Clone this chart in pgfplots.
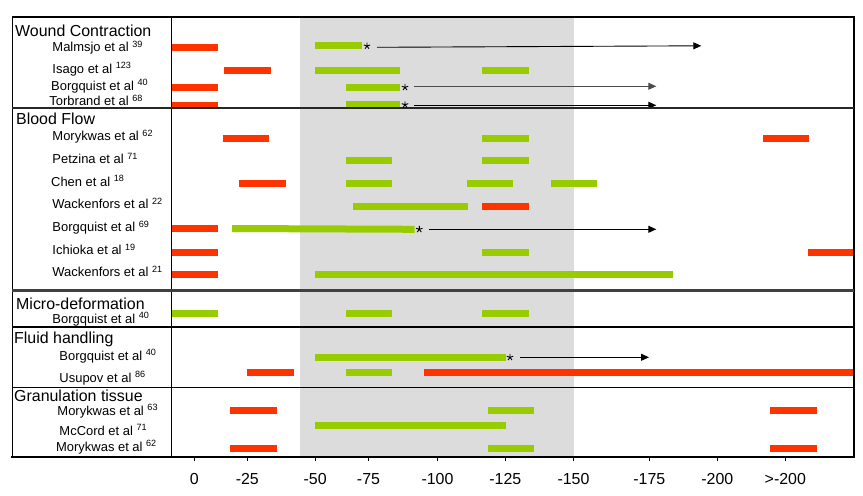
\documentclass[border=0pt]{standalone}
\usepackage{pgfplots}
\pgfplotsset{compat=1.18}
\usepackage{fontspec}
\setmainfont{Liberation Sans}
\usetikzlibrary{arrows.meta}
\definecolor{bgreen}{HTML}{99CC00}
\definecolor{bred}{HTML}{FF3300}
\definecolor{shade}{HTML}{DCDCDC}
\pgfplotsset{
  rb/.style={bred, line width=7bp, line cap=butt, mark=none},
  gb/.style={bgreen, line width=7bp, line cap=butt, mark=none},
  arr/.style={black, line width=0.9bp, mark=none, -{Triangle[length=8bp,width=7bp]}},
}
\newcommand\hdr[3]{\node[anchor=base west, inner sep=0pt, font=\fontsize{16}{18}\selectfont] at (axis cs:#1,#2+5.8) {#3};}
\newcommand\lab[3]{\node[anchor=base west, inner sep=0pt, font=\fontsize{13}{15}\selectfont] at (axis cs:#1,#2+4.6) {#3};}
\begin{document}
\begin{tikzpicture}
\begin{axis}[
  scale only axis, width=682bp, height=439.7bp,
  xmin=171.7, xmax=853.7, ymin=17, ymax=456.7, y dir=reverse,
  clip=false, axis line style={draw=none}, ytick=\empty,
  xtick={194.3,247.3,315.2,368.5,437.5,505.3,573.5,649.3,717.3,785.3},
  xticklabels={0,-25,-50,-75,-100,-125,-150,-175,-200,>-200},
  xtick pos=left, tick align=outside, major tick length=4.5bp,
  xtick style={black, line width=0.8bp},
  xticklabel style={font=\fontsize{16}{18}\selectfont, yshift=-9bp},
]
% bounding box of the whole figure
\path (axis cs:0,0) rectangle (axis cs:863,496);
% optimal-pressure shading
\addplot[fill=shade, draw=none] coordinates {(300,17) (573.5,17) (573.5,456.7) (300,456.7)} -- cycle;

% ---------------- Wound contraction
\addplot[rb] coordinates {(172,47.3) (218,47.3)};
\addplot[gb] coordinates {(315,45.5) (362,45.5)};
\addplot[rb] coordinates {(224,70.3) (271,70.3)};
\addplot[gb] coordinates {(315,70.3) (400,70.3)};
\addplot[gb] coordinates {(482,70.3) (529,70.3)};
\addplot[rb] coordinates {(172,87.3) (218,87.3)};
\addplot[gb] coordinates {(346,87.3) (400,87.3)};
\addplot[rb] coordinates {(172,105) (218,105)};
\addplot[gb] coordinates {(346,104.5) (400,104.5)};
% ---------------- Blood flow
\addplot[rb] coordinates {(222.7,138.3) (268.7,138.3)};
\addplot[gb] coordinates {(482,138.3) (529,138.3)};
\addplot[rb] coordinates {(763,138.3) (809,138.3)};
\addplot[gb] coordinates {(346,160.3) (392,160.3)};
\addplot[gb] coordinates {(482,160.3) (529,160.3)};
\addplot[rb] coordinates {(239,183.3) (285.7,183.3)};
\addplot[gb] coordinates {(346,183.3) (392,183.3)};
\addplot[gb] coordinates {(467,183.3) (513,183.3)};
\addplot[gb] coordinates {(551,183.3) (597,183.3)};
\addplot[gb] coordinates {(353,206.3) (468,206.3)};
\addplot[rb] coordinates {(482,206.3) (529,206.3)};
\addplot[rb] coordinates {(172,228.5) (218,228.5)};
\addplot[gb] coordinates {(232,228.5) (414.7,229.3)};
\addplot[rb] coordinates {(172,252.3) (218,252.3)};
\addplot[gb] coordinates {(482,252.3) (529,252.3)};
\addplot[rb] coordinates {(808,252.3) (853.7,252.3)};
\addplot[rb] coordinates {(172,274.3) (218,274.3)};
\addplot[gb] coordinates {(315,274.3) (673,274.3)};
% ---------------- Micro-deformation
\addplot[gb] coordinates {(172,313.3) (218,313.3)};
\addplot[gb] coordinates {(346,313.3) (392,313.3)};
\addplot[gb] coordinates {(482,313.3) (529,313.3)};
% ---------------- Fluid handling
\addplot[gb] coordinates {(315,357.3) (506,357.3)};
\addplot[rb] coordinates {(247,372.3) (293.7,372.3)};
\addplot[gb] coordinates {(346,372.3) (392,372.3)};
\addplot[rb] coordinates {(424,372.3) (853.7,372.3)};
% ---------------- Granulation tissue
\addplot[rb] coordinates {(230,410.3) (276.7,410.3)};
\addplot[gb] coordinates {(488,410.3) (534,410.3)};
\addplot[rb] coordinates {(770,410.3) (817,410.3)};
\addplot[gb] coordinates {(315,425.3) (506,425.3)};
\addplot[rb] coordinates {(230,448.3) (276.7,448.3)};
\addplot[gb] coordinates {(488,448.3) (534,448.3)};
\addplot[rb] coordinates {(770,448.3) (817,448.3)};

% arrows and stars
\addplot[arr] coordinates {(377,47.3) (701.3,45.8)};
\addplot[arr, black!70] coordinates {(414,86.3) (656.3,86.3)};
\addplot[arr] coordinates {(414,105.3) (656.3,105.3)};
\addplot[arr] coordinates {(429.3,229.3) (656.3,229.3)};
\addplot[arr] coordinates {(520,357.3) (649,357.3)};
\addplot[only marks, mark=star, mark size=3.4bp, black, mark options={line width=0.9bp}]
  coordinates {(367,46) (405,87.3) (405,104.7) (419.3,229.3) (510,357.3)};

% table frame
\draw[line width=1.5bp] (axis cs:12,17) -- (axis cs:853.7,17);
\draw[line width=1.5bp] (axis cs:12.3,17) -- (axis cs:12.3,456.7);
\draw[line width=2bp] (axis cs:853.7,16.3) -- (axis cs:853.7,457.5);
\draw[line width=2bp] (axis cs:11.5,456.7) -- (axis cs:854.7,456.7);
\draw[line width=1bp] (axis cs:171.7,17) -- (axis cs:171.7,456.7);
\draw[line width=2.5bp, black!85] (axis cs:12,108) -- (axis cs:853.7,108);
\draw[line width=2.7bp, black!75] (axis cs:12,290.3) -- (axis cs:853.7,290.3);
\draw[line width=2bp] (axis cs:12,326.7) -- (axis cs:853.7,326.7);
\draw[line width=1bp] (axis cs:12,387) -- (axis cs:853.7,387);

% row labels
\hdr{15}{30.7}{Wound Contraction}
\lab{52.3}{47.3}{Malmsjo et al \textsuperscript{39}}
\lab{52.3}{68.7}{Isago et al \textsuperscript{123}}
\lab{51}{85.7}{Borgquist et al \textsuperscript{40}}
\lab{49.3}{101}{Torbrand et al \textsuperscript{68}}
\hdr{16}{118.3}{Blood Flow}
\lab{52.3}{136}{Morykwas et al \textsuperscript{62}}
\lab{52.3}{159.3}{Petzina et al \textsuperscript{71}}
\lab{51}{181.7}{Chen et al \textsuperscript{18}}
\lab{52.3}{204}{Wackenfors et al \textsuperscript{22}}
\lab{52.3}{227.3}{Borgquist et al \textsuperscript{69}}
\lab{52.3}{250}{Ichioka et al \textsuperscript{19}}
\lab{52.3}{272.3}{Wackenfors et al \textsuperscript{21}}
\hdr{16}{303.5}{Micro-deformation}
\lab{52.3}{318.5}{Borgquist et al \textsuperscript{40}}
\hdr{14}{337.3}{Fluid handling}
\lab{59.3}{355.7}{Borgquist et al \textsuperscript{40}}
\lab{59.3}{377.7}{Usupov et al \textsuperscript{86}}
\hdr{14}{395.2}{Granulation tissue}
\lab{57.3}{410.5}{Morykwas et al \textsuperscript{63}}
\lab{59.3}{430.7}{McCord et al \textsuperscript{71}}
\lab{56}{446.7}{Morykwas et al \textsuperscript{62}}
\end{axis}
\end{tikzpicture}
\end{document}
